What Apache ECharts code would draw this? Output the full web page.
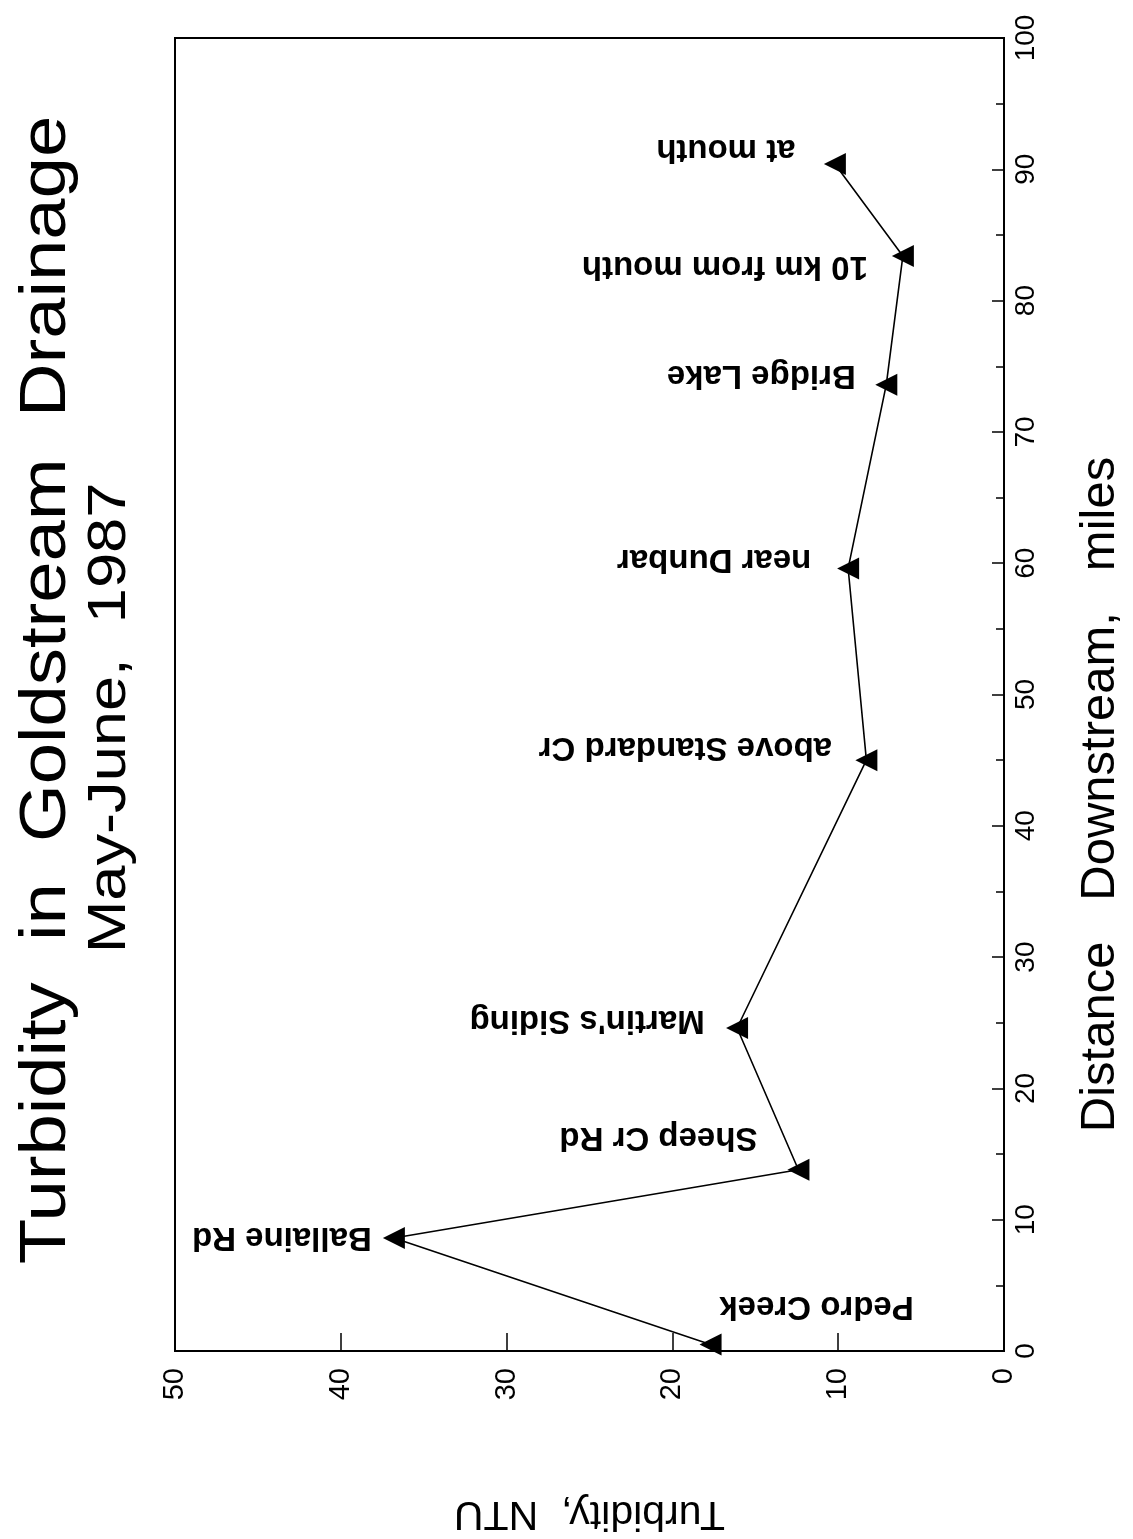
<!DOCTYPE html>
<html>
<head>
<meta charset="utf-8">
<style>
  html, body { margin: 0; padding: 0; background: #fff; }
  #chart { width: 1133px; height: 1539px; }
</style>
<script src="https://cdn.jsdelivr.net/npm/echarts@6/dist/echarts.min.js"></script>
</head>
<body>
<div id="chart"></div>
<script>
// ---- data ----
var sites = ['Pedro Creek', 'Ballaine Rd', 'Sheep Cr Rd', "Martin's Siding", 'above Standard Cr',
             'near Dunbar', 'Bridge Lake', '10 km from mouth', 'at mouth'];
var distanceMiles = [0.5, 8.6, 13.8, 24.6, 45.0, 59.6, 73.6, 83.4, 90.4];
var turbidityNTU = [17.7, 36.8, 12.4, 16.1, 8.3, 9.4, 7.1, 6.1, 10.2];
var turbidityTicks = [0, 10, 20, 30, 40, 50];
var distanceTicks = [0, 10, 20, 30, 40, 50, 60, 70, 80, 90, 100];

// ---- label placement (style only): visual displacement of label centre from its point ----
var labelShift = [[106, -38], [-112, -1], [-140, -33], [-150, -8], [-181, -13],
                  [-134, -9], [-125, -10], [-178, 10], [-109, -15]];

var FONT = "'Liberation Sans', Arial, Helvetica, sans-serif";

var seriesData = sites.map(function (name, i) {
  return {
    name: name,
    value: [turbidityNTU[i], distanceMiles[i]],
    label: {
      // offset is rotated together with the label (180deg), so negate it
      offset: [-labelShift[i][0], -labelShift[i][1]]
    }
  };
});

var chart = echarts.init(document.getElementById('chart'), null, { renderer: 'canvas' });
chart.setOption({
  backgroundColor: '#ffffff',
  animation: false,
  grid: {
    left: 175, right: 123, top: 38, bottom: 179,
    show: true, borderColor: '#000', borderWidth: 2, backgroundColor: 'transparent'
  },
  graphic: [
    {
      type: 'text', x: 47, y: 690, rotation: Math.PI / 2, scaleX: 1.16,
      style: { text: 'Turbidity  in  Goldstream  Drainage', fontSize: 64, fontFamily: FONT,
               fill: '#000', align: 'center', verticalAlign: 'middle' }
    },
    {
      type: 'text', x: 110, y: 718, rotation: Math.PI / 2, scaleX: 1.17,
      style: { text: 'May-June,  1987', fontSize: 54, fontFamily: FONT,
               fill: '#000', align: 'center', verticalAlign: 'middle' }
    }
  ],
  xAxis: {
    type: 'value', position: 'bottom', inverse: true,
    min: turbidityTicks[0], max: turbidityTicks[turbidityTicks.length - 1], interval: 10,
    name: 'Turbidity,  NTU', nameLocation: 'middle', nameRotate: 180, nameGap: 142,
    nameTextStyle: { fontSize: 41, fontFamily: FONT, color: '#000' },
    axisLine: { show: true, onZero: false, lineStyle: { color: '#000', width: 2 } },
    axisTick: { show: true, inside: true, length: 18, lineStyle: { color: '#000', width: 1.5 } },
    axisLabel: { rotate: 90, margin: 17, fontSize: 29, fontFamily: FONT, color: '#000' },
    splitLine: { show: false }
  },
  yAxis: {
    type: 'value', position: 'right',
    min: distanceTicks[0], max: distanceTicks[distanceTicks.length - 1], interval: 10,
    name: 'Distance   Downstream,   miles', nameLocation: 'middle', nameRotate: 90, nameGap: 72,
    nameTextStyle: { fontSize: 49, fontFamily: FONT, color: '#000', padding: [0, 200, 0, 0] },
    axisLine: { show: true, onZero: false, lineStyle: { color: '#000', width: 2 } },
    axisTick: { show: true, inside: true, length: 12, lineStyle: { color: '#000', width: 1.5 } },
    minorTick: { show: true, splitNumber: 2, length: 8, lineStyle: { color: '#000', width: 1.5 } },
    axisLabel: { rotate: 90, margin: 8, fontSize: 28, fontFamily: FONT, color: '#000' },
    splitLine: { show: false }
  },
  series: [{
    type: 'line',
    data: seriesData,
    symbol: 'triangle',
    symbolSize: [22, 22],
    symbolRotate: 90,
    showAllSymbol: true,
    itemStyle: { color: '#000' },
    lineStyle: { color: '#000', width: 1.6 },
    label: {
      show: true,
      position: 'inside',
      rotate: 180,
      align: 'center',
      verticalAlign: 'middle',
      formatter: function (p) { return p.name; },
      fontSize: 33,
      fontWeight: 'bold',
      fontFamily: FONT,
      color: '#000'
    },
    emphasis: { disabled: true }
  }]
});
</script>
</body>
</html>
